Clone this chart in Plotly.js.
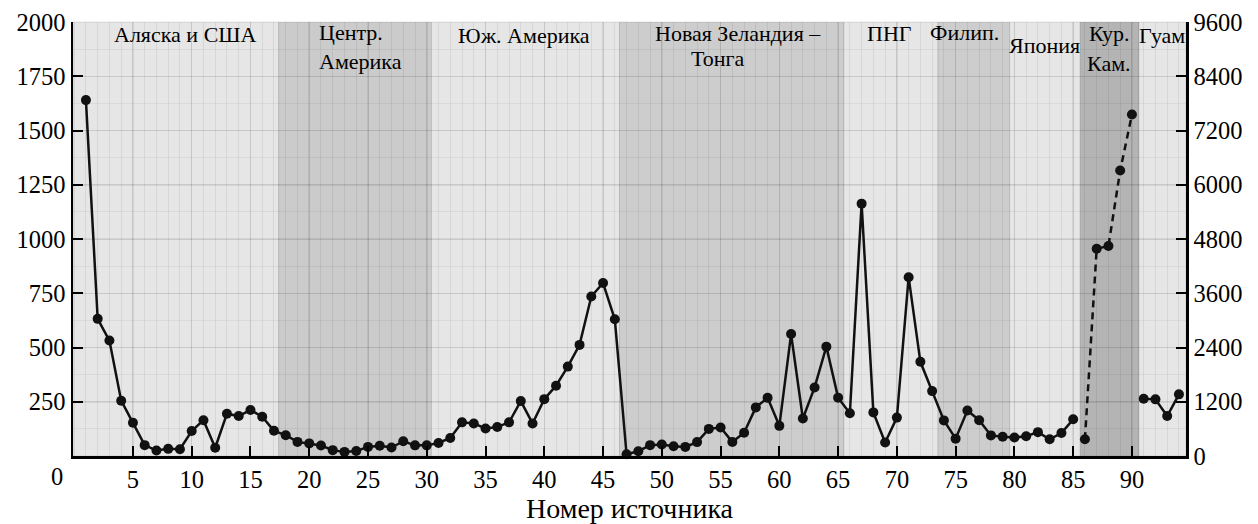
<!DOCTYPE html>
<html><head><meta charset="utf-8">
<script src="https://cdn.plot.ly/plotly-3.0.1.min.js"></script>
<style>html,body{margin:0;padding:0;background:#fff}</style>
</head><body><div id="chart" style="width:1258px;height:524px"></div>
<script>
// Source numbers and values (left axis) for the main solid series
const mainX = [1,2,3,4,5,6,7,8,9,10,11,12,13,14,15,16,17,18,19,20,21,22,23,24,25,26,27,28,29,30,
  31,32,33,34,35,36,37,38,39,40,41,42,43,44,45,46,47,48,49,50,51,52,53,54,55,56,57,58,59,60,
  61,62,63,64,65,66,67,68,69,70,71,72,73,74,75,76,77,78,79,80,81,82,83,84,85];
const mainY = [1640,632,532,255,153,50,25,33,31,115,165,38,195,184,212,181,116,96,65,58,48,27,19,23,42,47,39,68,49,49,
  60,83,155,150,127,134,155,253,150,262,324,412,512,735,797,630,8,22,50,53,45,42,64,125,131,65,107,224,268,139,
  562,173,316,504,269,197,1163,201,62,177,824,434,299,164,80,210,165,95,89,85,91,110,77,106,169];
// Kuril–Kamchatka series (right axis, dashed)
const kurX = [86,87,88,89,90];
const kurY = [372,4585,4645,6314,7554];
// Guam series (left axis)
const guamX = [91,92,93,94];
const guamY = [264,261,184,284];

// Regions
const regionStart = [-0.1,17.4,30.4,46.4,65.5,73.5,79.6,85.6,90.6];
const regionEnd   = [17.4,30.4,46.4,65.5,73.5,79.6,85.6,90.6,94.6];
const regionFill  = ['#e6e6e6','#cbcbcb','#e6e6e6','#cdcdcd','#e6e6e6','#cdcdcd','#e6e6e6','#b4b4b4','#e6e6e6'];

// Region labels
const labelText = ['Аляска и США','Центр.<br>Америка','Юж. Америка','Новая Зеландия –','Тонга','ПНГ','Филип.','Япония','Кур.','Кам.','Гуам'];
const labelX    = [9.47,20.62,38.26,56.52,54.75,69.33,75.77,82.52,88.13,88.04,92.53];
const labelY    = [1943,1886,1940,1947,1833,1947,1951,1891,1947,1807,1940];
const labelAnchor = ['center','left','center','center','center','center','center','center','center','center','center'];

const leftTicks = [250,500,750,1000,1250,1500,1750,2000];
const rightTicks = [0,1200,2400,3600,4800,6000,7200,8400,9600];
const xTicks = [5,10,15,20,25,30,35,40,45,50,55,60,65,70,75,80,85,90];

const FONT = 'Liberation Serif';
const ink = '#111111';

const shapes = regionStart.map((s,i)=>({
  type:'rect', xref:'x', yref:'paper', x0:s, x1:regionEnd[i], y0:0, y1:1,
  fillcolor:regionFill[i], line:{width:1,color:'rgba(0,0,0,0.10)'}, layer:'below'
}));

const annotations = labelText.map((t,i)=>({
  text:t, x:labelX[i], y:labelY[i], xref:'x', yref:'y', showarrow:false,
  xanchor:labelAnchor[i], yanchor:'middle', align:labelAnchor[i]==='left'?'left':'center',
  font:{family:FONT,size:22,color:'#000'}
}));
annotations.push({text:'0', x:0, y:0, xref:'x', yref:'y', showarrow:false, xanchor:'center', yanchor:'top',
  xshift:-17, yshift:-5, font:{family:FONT,size:24.5,color:'#000'}});

const traces = [
  {x:mainX, y:mainY, type:'scatter', mode:'lines+markers', line:{color:ink,width:2.5},
   marker:{color:ink,size:10}, yaxis:'y', showlegend:false, cliponaxis:false},
  {x:kurX, y:kurY, type:'scatter', mode:'lines+markers', line:{color:ink,width:2.5,dash:'7px,5px'},
   marker:{color:ink,size:10}, yaxis:'y2', showlegend:false},
  {x:guamX, y:guamY, type:'scatter', mode:'lines+markers', line:{color:ink,width:2.5},
   marker:{color:ink,size:10}, yaxis:'y', showlegend:false}
];

const layout = {
  width:1258, height:524,
  margin:{l:73, r:72, t:22, b:68, pad:0},
  paper_bgcolor:'#ffffff', plot_bgcolor:'#e6e6e6',
  font:{family:FONT, size:24.5, color:'#000'},
  showlegend:false,
  xaxis:{
    range:[-0.1,94.6], tickmode:'array', tickvals:xTicks,
    ticks:'inside', ticklen:10, tickwidth:2, tickcolor:'#000',
    showline:true, linecolor:'#000', linewidth:2.5, mirror:false,
    showgrid:true, gridcolor:'rgba(0,0,0,0.075)', gridwidth:1.5, zeroline:false,
    minor:{tick0:0, dtick:1, showgrid:true, gridcolor:'rgba(0,0,0,0.065)', gridwidth:1, ticks:''},
    tickfont:{family:FONT,size:24.5,color:'#000'},
    title:{text:'Номер источника', font:{family:FONT,size:28,color:'#000'}, standoff:7}
  },
  yaxis:{
    range:[0,2000], tickmode:'array', tickvals:leftTicks,
    ticks:'inside', ticklen:10, tickwidth:2, tickcolor:'#000',
    showline:true, linecolor:'#000', linewidth:2.5,
    showgrid:true, gridcolor:'rgba(0,0,0,0.075)', gridwidth:1.5, zeroline:false,
    minor:{tick0:0, dtick:125, showgrid:true, gridcolor:'rgba(0,0,0,0.05)', gridwidth:1, ticks:''},
    tickfont:{family:FONT,size:24.5,color:'#000'}
  },
  yaxis2:{
    range:[0,9600], overlaying:'y', side:'right', tickmode:'array', tickvals:rightTicks,
    ticks:'inside', ticklen:10, tickwidth:2, tickcolor:'#000',
    showline:true, linecolor:'#000', linewidth:2.5, showgrid:false, zeroline:false,
    tickfont:{family:FONT,size:24.5,color:'#000'}
  },
  shapes:shapes,
  annotations:annotations
};

Plotly.newPlot('chart', traces, layout, {displayModeBar:false, staticPlot:true});
</script></body></html>
